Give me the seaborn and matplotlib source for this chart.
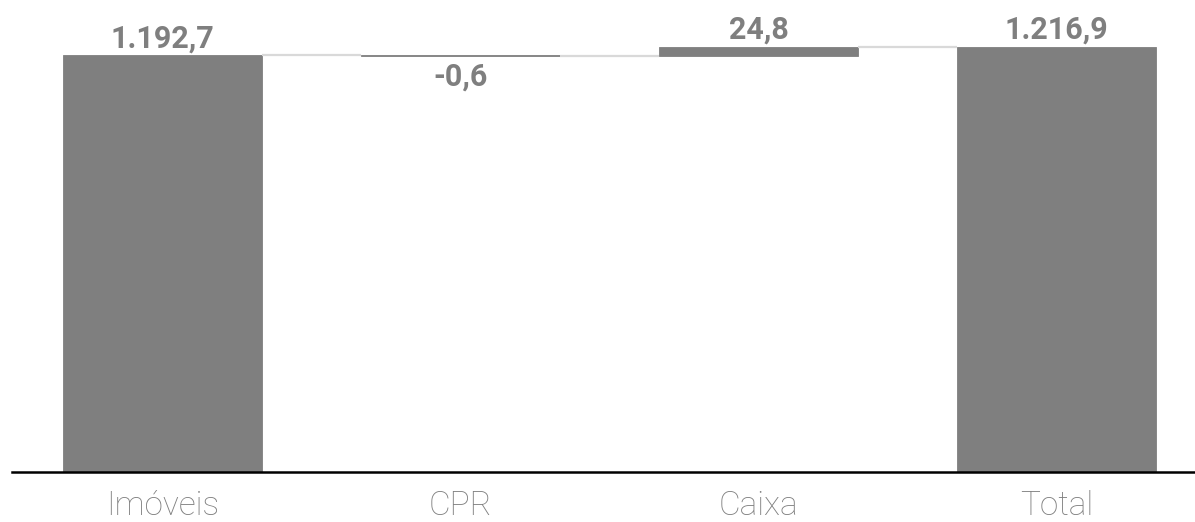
import numpy as np
import pandas as pd
import matplotlib
matplotlib.use('Agg')
import matplotlib.pyplot as plt
import seaborn as sns

# 数据
categorias = ['Imóveis', 'CPR', 'Caixa', 'Total']
valores = [1192.7, -0.6, 24.8, 1216.9]
rotulos = ['1.192,7', '-0,6', '24,8', '1.216,9']

sns.set_theme(style='white')
plt.rcParams['font.family'] = ['Roboto', 'DejaVu Sans']

# 瀑布图：计算每根柱子的底部和高度
acumulado = np.cumsum(valores[:-1])
bottoms = [0.0]
for i in range(1, len(valores) - 1):
    bottoms.append(min(acumulado[i - 1], acumulado[i]))
bottoms.append(0.0)
heights = [abs(v) for v in valores]
df = pd.DataFrame({'cat': categorias, 'h': heights, 'b': bottoms})

fig = plt.figure(figsize=(11.95, 5.22), dpi=100)
ax = fig.add_axes([12 / 1195, 50 / 522, 1 - 12 / 1195, 452 / 522])

sns.barplot(data=df, x='cat', y='h', bottom=df['b'].values, color='#7f7f7f',
            saturation=1, width=0.67, ax=ax, edgecolor='#7f7f7f', linewidth=0.6)

# 连接线
niveis = list(acumulado)
w = 0.67 / 2
for i, nv in enumerate(niveis):
    ax.plot([i + w, i + 1 - w], [nv, nv], color='#d9d9d9', lw=1.6, zorder=1,
            solid_capstyle='butt')

# 数值标签
for i, (v, t) in enumerate(zip(valores, rotulos)):
    topo = df['b'][i] + df['h'][i]
    if v >= 0:
        ax.text(i, topo + 6, t, ha='center', va='bottom', fontsize=22,
                fontweight='bold', color='#7f7f7f')
    else:
        ax.text(i, df['b'][i] - 18, t, ha='center', va='top', fontsize=22,
                fontweight='bold', color='#7f7f7f')

ax.set_xlim(-0.505, 3.465)
ax.set_ylim(0, 1294)
ax.set_xlabel('')
ax.set_ylabel('')
ax.set_yticks([])
for s in ['top', 'right', 'left']:
    ax.spines[s].set_visible(False)
ax.spines['bottom'].set_color('black')
ax.spines['bottom'].set_linewidth(1.8)
ax.tick_params(axis='x', length=0, pad=13)
for lab in ax.get_xticklabels():
    lab.set_fontsize(24)
    lab.set_fontweight('light')
    lab.set_color('#7f7f7f')

fig.savefig('out.png', dpi=100)
